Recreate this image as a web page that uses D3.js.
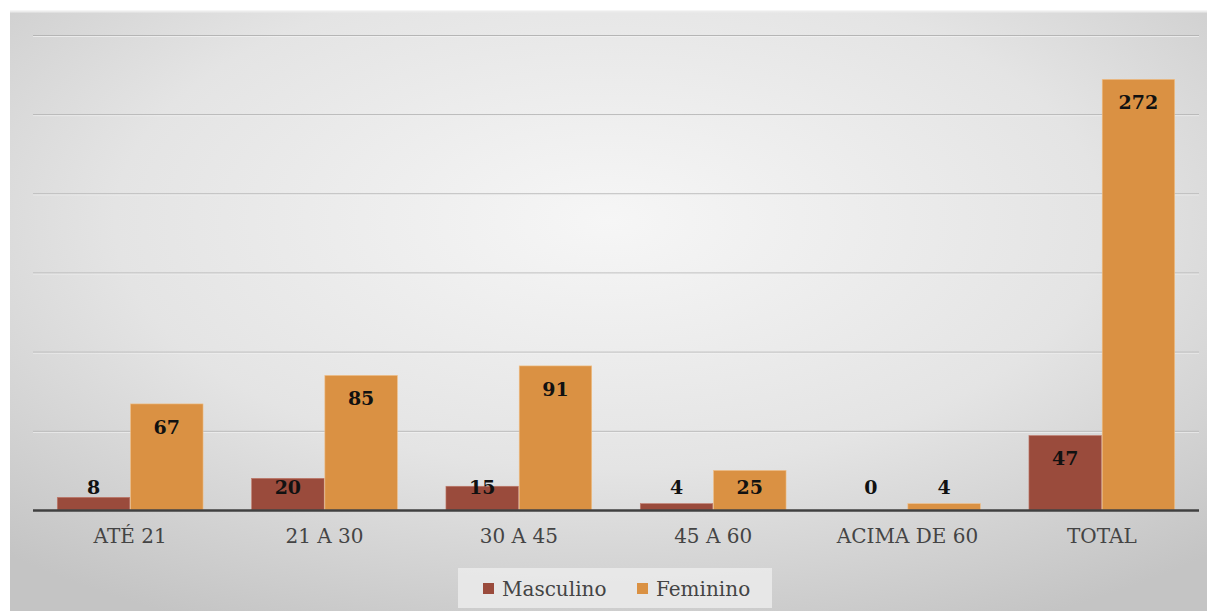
<!DOCTYPE html>
<html><head><meta charset="utf-8">
<script src="https://cdn.jsdelivr.net/npm/d3@7"></script>
<style>html,body{margin:0;padding:0;background:#fff;}svg{display:block;}
svg text{font-family:"DejaVu Serif",serif;}</style>
</head><body>
<svg id="c" width="1207" height="611"></svg>
<script>
const categories = ["ATÉ 21","21 A 30","30 A 45","45 A 60","ACIMA DE 60","TOTAL"];
const masculino = [8,20,15,4,0,47];
const feminino = [67,85,91,25,4,272];
const seriesNames = ["Masculino","Feminino"];
const yTicks = [0,50,100,150,200,250,300];

const colors = ["#9a4b3c","#da9143"];
const serif = "'DejaVu Serif',serif";
const svg = d3.select("#c");
const defs = svg.append("defs");
const rg = defs.append("radialGradient").attr("id","bg").attr("cx","50%").attr("cy","35%").attr("r","75%")
  .attr("gradientUnits","objectBoundingBox");
rg.append("stop").attr("offset","0%").attr("stop-color","#f6f6f6");
rg.append("stop").attr("offset","55%").attr("stop-color","#e4e4e4");
rg.append("stop").attr("offset","100%").attr("stop-color","#c4c4c4");

svg.append("rect").attr("x",10).attr("y",11).attr("width",1197).attr("height",600).attr("fill","url(#bg)");
svg.append("line").attr("x1",10).attr("x2",1207).attr("y1",11.5).attr("y2",11.5).attr("stroke","#ececec").attr("stroke-width",2);

const m = {left:33,right:1199,top:35,bottom:510};
const x0 = d3.scaleBand().domain(categories).range([m.left,m.right]).paddingInner(0.25).paddingOuter(0.125);
const x1 = d3.scaleBand().domain(seriesNames).range([0,x0.bandwidth()]).paddingInner(0.01);
const y = d3.scaleLinear().domain([0,300]).range([m.bottom,m.top]);

const grid = svg.append("g");
yTicks.filter(t=>t>0).forEach(t=>{
  grid.append("line").attr("x1",m.left).attr("x2",m.right).attr("y1",y(t)+0.5).attr("y2",y(t)+0.5).attr("stroke","#b5b5b5").attr("stroke-width",1);
  grid.append("line").attr("x1",m.left).attr("x2",m.right).attr("y1",y(t)+1.5).attr("y2",y(t)+1.5).attr("stroke","#f4f4f4").attr("stroke-width",1).attr("opacity",0.7);
});

const data = categories.map((c,i)=>({c, vals:[masculino[i],feminino[i]]}));
const groups = svg.append("g").selectAll("g").data(data).join("g").attr("transform",d=>`translate(${x0(d.c)},0)`);
groups.selectAll("rect").data(d=>d.vals.map((v,j)=>({v,s:seriesNames[j],j}))).join("rect")
  .attr("x",d=>x1(d.s)).attr("width",x1.bandwidth())
  .attr("y",d=>y(d.v)).attr("height",d=>y(0)-y(d.v))
  .attr("fill",d=>colors[d.j]).attr("stroke",d=>d.v>0?(d.j?"#f0c08a":"#c07a6a"):"none").attr("stroke-width",0.6);

groups.selectAll("text").data(d=>d.vals.map((v,j)=>({v,s:seriesNames[j],j}))).join("text")
  .attr("x",d=>x1(d.s)+x1.bandwidth()/2)
  .attr("y",d=>Math.min(y(d.v)+23,y(0)-23))
  .attr("dy","0.35em").attr("text-anchor","middle")
  .style("font-family",serif).attr("font-weight","bold").attr("font-size",19)
  .attr("fill","#111").text(d=>d.v);

svg.append("line").attr("x1",m.left).attr("x2",m.right).attr("y1",y(0)+0.5).attr("y2",y(0)+0.5).attr("stroke","#404040").attr("stroke-width",2.5);

const xAxis = d3.axisBottom(x0).tickSize(0).tickPadding(0);
const ax = svg.append("g").attr("transform",`translate(0,${y(0)})`).call(xAxis);
ax.attr("font-family",null).attr("font-size",null);
ax.select(".domain").remove();
ax.selectAll("text").attr("y",33).attr("dy","0").style("font-family",serif).style("font-size","20px").attr("fill","#444");

// legend
const lg = svg.append("g");
lg.append("rect").attr("x",458).attr("y",568).attr("width",314).attr("height",40).attr("fill","#ebebeb").attr("opacity",0.85);
const items = [{n:seriesNames[0],c:colors[0],x:483},{n:seriesNames[1],c:colors[1],x:637}];
items.forEach(it=>{
  lg.append("rect").attr("x",it.x).attr("y",583).attr("width",11).attr("height",11).attr("fill",it.c);
  lg.append("text").attr("x",it.x+19).attr("y",596).style("font-family",serif).style("font-size","20px").attr("fill","#444").text(it.n);
});
</script>
</body></html>
